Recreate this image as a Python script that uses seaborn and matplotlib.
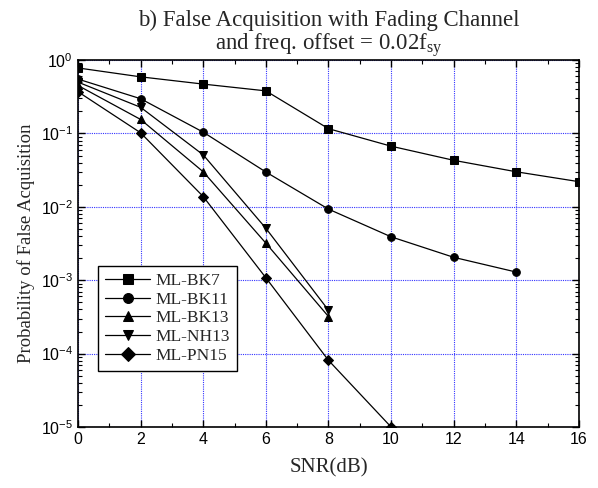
import numpy as np
import pandas as pd
import matplotlib
matplotlib.use("Agg")
import matplotlib.pyplot as plt
import seaborn as sns
from matplotlib.ticker import LogLocator, MultipleLocator, NullFormatter

snr_bk7 = [0, 2, 4, 6, 8, 10, 12, 14, 16]
pfa_bk7 = [0.78, 0.59, 0.47, 0.38, 0.116, 0.067, 0.043, 0.030, 0.022]
snr_bk11 = [0, 2, 4, 6, 8, 10, 12, 14]
pfa_bk11 = [0.55, 0.297, 0.104, 0.0298, 0.0093, 0.0039, 0.00205, 0.00129]
snr_bk13 = [0, 2, 4, 6, 8]
pfa_bk13 = [0.45, 0.155, 0.030, 0.0032, 0.00032]
snr_nh13 = [0, 2, 4, 6, 8]
pfa_nh13 = [0.50, 0.227, 0.051, 0.0051, 0.00039]
snr_pn15 = [0, 2, 4, 6, 8, 10]
pfa_pn15 = [0.37, 0.102, 0.0138, 0.00108, 0.000081, 0.00001]

names = ["ML-BK7", "ML-BK11", "ML-BK13", "ML-NH13", "ML-PN15"]
series = [(snr_bk7, pfa_bk7), (snr_bk11, pfa_bk11), (snr_bk13, pfa_bk13),
          (snr_nh13, pfa_nh13), (snr_pn15, pfa_pn15)]
marker_map = {"ML-BK7": "s", "ML-BK11": "o", "ML-BK13": "^", "ML-NH13": "v", "ML-PN15": "D"}

rows = []
for n, (xs, ys) in zip(names, series):
    for x, y in zip(xs, ys):
        rows.append({"SNR": x, "Pfa": y, "Scheme": n})
df = pd.DataFrame(rows)

sns.set_style("ticks")
serif = ["Liberation Serif", "DejaVu Serif"]
sans = ["Liberation Sans", "DejaVu Sans"]

fig = plt.figure(figsize=(5.98, 4.88), dpi=100)
ax = fig.add_axes([0.1304, 0.125, 0.8378, 0.752])

sns.lineplot(data=df, x="SNR", y="Pfa", hue="Scheme", style="Scheme",
             hue_order=names, style_order=names,
             palette=["black"] * 5, markers=marker_map, dashes=False,
             markersize=5.5, markeredgecolor="black", linewidth=0.9,
             ax=ax, legend=True)

ax.set_yscale("log")
ax.set_xlim(0, 16)
ax.set_ylim(1e-5, 1)
ax.xaxis.set_major_locator(MultipleLocator(2))
ax.xaxis.set_minor_locator(MultipleLocator(1))
ax.yaxis.set_major_locator(LogLocator(base=10, numticks=10))
ax.yaxis.set_minor_locator(LogLocator(base=10, subs=np.arange(2, 10), numticks=20))
ax.yaxis.set_minor_formatter(NullFormatter())

ax.grid(True, which="major", color="#3333ff", linestyle=(0, (1, 1)), linewidth=0.8)
ax.tick_params(which="both", direction="in", top=True, right=True, colors="black")
ax.tick_params(which="major", length=5, width=1, labelsize=11.5)
ax.tick_params(which="minor", length=3, width=0.8)
for lbl in ax.get_xticklabels() + ax.get_yticklabels():
    lbl.set_family(sans)
for s in ax.spines.values():
    s.set_linewidth(1.2)
    s.set_color("black")

ax.set_xlabel("SNR(dB)", family=serif, fontsize=15, labelpad=8)
ax.set_ylabel("Probability of False Acquisition", family=serif, fontsize=13.5, labelpad=4)
ax.set_title("b) False Acquisition with Fading Channel\nand freq. offset = 0.02f$_{\\mathregular{sy}}$",
             family=serif, fontsize=16.5, pad=7, linespacing=1.05)

leg = ax.legend(loc="lower left", bbox_to_anchor=(0.04, 0.153), borderaxespad=0,
                frameon=True, fancybox=False, edgecolor="black", framealpha=1,
                prop={"family": serif, "size": 12.5}, handlelength=2.6,
                labelspacing=0.15, borderpad=0.4, handletextpad=0.3,
                markerscale=1.3)
leg.get_frame().set_linewidth(1.0)

fig.savefig("out.png", dpi=100)
